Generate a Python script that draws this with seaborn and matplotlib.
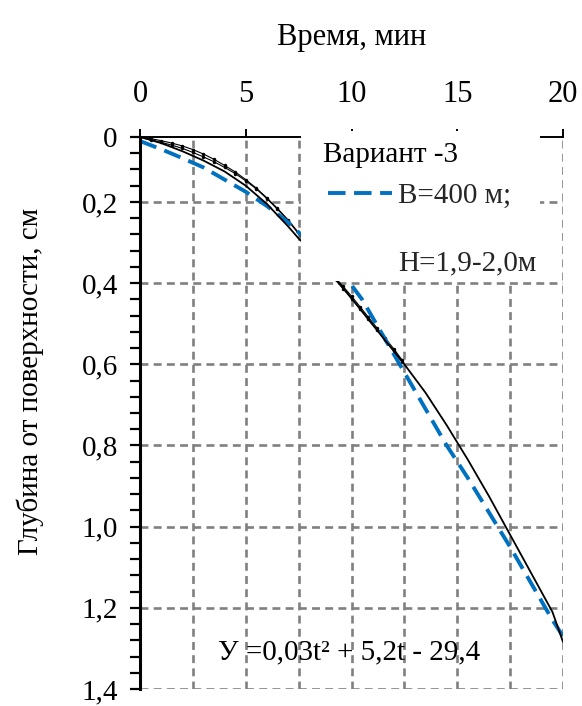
import numpy as np
import pandas as pd
import matplotlib
matplotlib.use("Agg")
import matplotlib.pyplot as plt
import seaborn as sns
from matplotlib.lines import Line2D
from matplotlib.patches import Rectangle
from matplotlib.ticker import FixedLocator, MultipleLocator

# --- data -------------------------------------------------------------
# time, min
t_model = [0, 1, 2, 3, 4, 5, 6, 7, 7.5, 8.5, 9.5, 10.5, 11.5, 12.5, 13.5,
           14.5, 15.5, 16.5, 17.5, 18.5, 19.5, 20]
# depth of the B=400 m run
depth_b400 = [0.05, 0.07, 0.092, 0.115, 0.145, 0.175, 0.21, 0.25, 0.275, 0.32,
              0.37, 0.44, 0.53, 0.62, 0.71, 0.80, 0.88, 0.965, 1.05, 1.14,
              1.23, 1.27]
# trend line
depth_trend = [0.04, 0.055, 0.075, 0.098, 0.125, 0.16, 0.205, 0.26, 0.29, 0.34,
               0.405, 0.47, 0.535, 0.60, 0.67, 0.75, 0.835, 0.925, 1.02, 1.115,
               1.21, 1.284]

# measured points (two repeats)
t_obs = [0, 0.5, 1, 1.5, 2, 2.5, 3, 3.5, 4, 4.5, 5, 5.5, 6, 6.5, 7,
         9.2, 9.6, 10.0, 10.4, 10.8, 11.2, 11.6, 12.0, 12.4]
depth_obs1 = [0.04, 0.044, 0.049, 0.055, 0.062, 0.071, 0.082, 0.095, 0.11,
              0.126, 0.145, 0.166, 0.19, 0.216, 0.244,
              0.385, 0.408, 0.432, 0.458, 0.484, 0.51, 0.536, 0.562, 0.59]
depth_obs2 = [0.04, 0.047, 0.053, 0.06, 0.068, 0.078, 0.089, 0.101, 0.115,
              0.13, 0.148, 0.168, 0.192, 0.218, 0.246,
              0.39, 0.414, 0.438, 0.463, 0.489, 0.515, 0.541, 0.567, 0.595]

y_tick_pos = [0.04, 0.2, 0.4, 0.6, 0.8, 1.0, 1.2, 1.4]
y_tick_labels = ["0", "0,2", "0,4", "0,6", "0,8", "1,0", "1,2", "1,4"]
x_ticks = [0, 5, 10, 15, 20]

df_model = pd.DataFrame({"t": t_model, "b400": depth_b400, "trend": depth_trend})
df_obs = pd.DataFrame({"t": t_obs, "o1": depth_obs1, "o2": depth_obs2})

# --- style ------------------------------------------------------------
sns.set_theme(style="white")
plt.rcParams["font.family"] = ["Liberation Serif", "DejaVu Serif"]
FS = 21
FS_TICK = 21

fig = plt.figure(figsize=(5.82, 7.06), dpi=100)
ax = fig.add_axes([140 / 582, 1 - 689 / 706, 423 / 582, 552 / 706])

blue = "#0070C0"
sns.lineplot(data=df_obs, x="t", y="o1", ax=ax, color="black", lw=0.8,
             marker="o", markersize=2.5, markeredgewidth=0, zorder=2)
sns.lineplot(data=df_obs, x="t", y="o2", ax=ax, color="black", lw=0.8,
             marker="o", markersize=2.5, markeredgewidth=0, zorder=2)
sns.lineplot(data=df_model, x="t", y="trend", ax=ax, color="black", lw=1.3,
             zorder=2.2)
sns.lineplot(data=df_model, x="t", y="b400", ax=ax, color=blue, lw=2.8,
             zorder=2.1)
ax.lines[-1].set_dashes((4.5, 2.2))

ax.set_xlim(0, 20)
ax.set_ylim(1.4, 0.04)

# grid
ax.xaxis.set_major_locator(FixedLocator(x_ticks))
ax.xaxis.set_minor_locator(MultipleLocator(2.5))
ax.yaxis.set_major_locator(FixedLocator(y_tick_pos))
ax.yaxis.set_minor_locator(MultipleLocator(0.04))
ax.set_yticklabels(y_tick_labels)
ax.grid(False)
gkw = dict(color="#808080", lw=1.9, ls=(0, (3, 2)), zorder=1)
for xv in np.arange(2.5, 20.01, 2.5):
    ax.axvline(xv, **gkw)
for yv in [0.2, 0.4, 0.6, 0.8, 1.0, 1.2, 1.4]:
    ax.axhline(yv, **gkw)

# spines
for s in ["right", "bottom"]:
    ax.spines[s].set_visible(False)
ax.spines["left"].set_color("black")
ax.spines["left"].set_linewidth(2.2)
ax.spines["top"].set_color("black")
ax.spines["top"].set_linewidth(1.4)

ax.xaxis.tick_top()
ax.xaxis.set_label_position("top")
ax.tick_params(axis="x", which="major", direction="out", length=6, width=1.4,
               colors="black", labelsize=22, pad=14)
ax.tick_params(axis="x", which="minor", length=0)
ax.tick_params(axis="y", which="both", direction="out", length=7, width=1.6,
               colors="black", labelsize=FS_TICK, pad=9, left=True)
ax.set_xticklabels([str(v) for v in x_ticks])

ax.set_xlabel("Время, мин", fontsize=22, labelpad=25, color="black")
ax.set_ylabel("Глубина от поверхности, см", fontsize=FS, color="black")
ax.yaxis.set_label_coords(-0.227, 0.557)

# legend area
ax.add_patch(Rectangle((0.381, 0.74), 0.565, 0.27, transform=ax.transAxes,
                       facecolor="white", edgecolor="none", zorder=3,
                       clip_on=False))
ax.text(0.433, 0.967, "Вариант -3", transform=ax.transAxes, fontsize=FS,
        ha="left", va="center", color="black", zorder=4)
handles = [Line2D([], [], color=blue, lw=2.8, dashes=(4.5, 2.2)),
           Line2D([], [], color="none")]
leg = ax.legend(handles, ["B=400 м;", "H=1,9-2,0м"], loc="upper left",
                bbox_to_anchor=(0.444, 0.917), frameon=False, fontsize=FS,
                handlelength=2.2, handletextpad=0.2, labelspacing=1.4,
                borderpad=0, borderaxespad=0)
leg.set_zorder(4)

ax.text(9.9, 1.31, "У =0,03t² + 5,2t - 29,4", fontsize=FS, ha="center",
        va="center", color="black", zorder=4)

fig.savefig("out.png", dpi=100)
